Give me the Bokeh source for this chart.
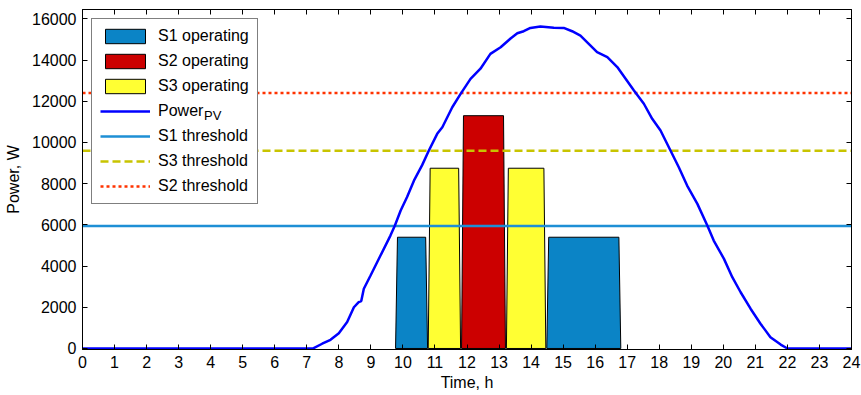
from bokeh.plotting import figure
from bokeh.models import Range1d, LinearAxis, FixedTicker, Legend, LegendItem
from bokeh.embed import file_html
from bokeh.resources import INLINE

# ---------------- data ----------------
hour_ticks = list(range(0, 25))
power_ticks = list(range(0, 16001, 2000))

pv_time = [0, 7.2, 7.48, 7.74, 8.0, 8.26, 8.47, 8.62, 8.70, 8.78, 8.99, 9.30, 9.61, 9.75,
           9.93, 10.13, 10.36, 10.6, 10.81, 11.07, 11.23, 11.54, 11.80, 12.11, 12.42, 12.73,
           13.05, 13.36, 13.57, 13.77, 13.98, 14.29, 14.71, 15.02, 15.28, 15.54, 15.80, 16.06,
           16.38, 16.69, 16.95, 17.21, 17.52, 17.78, 18.04, 18.35, 18.61, 18.87, 19.19, 19.50,
           19.70, 20.02, 20.28, 20.54, 20.85, 21.16, 21.47, 21.79, 22.0, 24]
pv_power = [0, 0, 230, 420, 740, 1280, 2000, 2250, 2300, 2900, 3540, 4510, 5480, 5970,
            6700, 7350, 8200, 8900, 9610, 10420, 10740, 11710, 12360, 13090, 13580, 14300,
            14620, 15050, 15300, 15400, 15560, 15630, 15570, 15560, 15400, 15190, 14790, 14380,
            14140, 13660, 13090, 12520, 11880, 11150, 10580, 9610, 8800, 7910, 7020, 5970,
            5240, 4350, 3460, 2730, 1930, 1200, 550, 190, 0, 0]

s1_start = [9.77, 14.49]
s1_end = [10.77, 16.80]
s1_level = 5400

s2_start = [11.83]
s2_end = [13.20]
s2_level = 11300

s3_start = [10.79, 13.23]
s3_end = [11.80, 14.46]
s3_level = 8750

s1_threshold = 5950
s3_threshold = 9600
s2_threshold = 12400

legend_labels = ["S1 operating", "S2 operating", "S3 operating", "Power",
                 "S1 threshold", "S3 threshold", "S2 threshold"]
pv_subscript = "PV"

# ---------------- styling ----------------
FONT = "Liberation Sans"
RAMP = 0.06  # width of the rising / falling edge of the operating blocks (h)

C_S1 = "#0b84c6"
C_S2 = "#cc0000"
C_S3 = "#ffff33"
C_PV = "#0000ff"
C_S1T = "#1e8fd5"
C_S3T = "#c8c400"
C_S2T = "#ff3300"

p = figure(width=861, height=395, output_backend="svg", toolbar_location=None,
           x_range=Range1d(0, 24), y_range=Range1d(-50, 16455),
           min_border_left=82, min_border_right=10, min_border_top=9, min_border_bottom=46)
p.xgrid.visible = False
p.ygrid.visible = False
p.outline_line_color = "black"
p.outline_line_width = 1
p.background_fill_color = "white"
p.border_fill_color = "white"


def blocks(starts, ends, level):
    xs, ys = [], []
    for s, e in zip(starts, ends):
        xs.append([s, s + RAMP, e - RAMP, e])
        ys.append([0, level, level, 0])
    return xs, ys


xs1, ys1 = blocks(s1_start, s1_end, s1_level)
xs2, ys2 = blocks(s2_start, s2_end, s2_level)
xs3, ys3 = blocks(s3_start, s3_end, s3_level)

r_s1 = p.patches(xs1, ys1, fill_color=C_S1, line_color="black", line_width=1)
r_s2 = p.patches(xs2, ys2, fill_color=C_S2, line_color="black", line_width=1)
r_s3 = p.patches(xs3, ys3, fill_color=C_S3, line_color="black", line_width=1)

x_full = [hour_ticks[0], hour_ticks[-1]]
r_s1t = p.line(x_full, [s1_threshold] * 2, line_color=C_S1T, line_width=2.5)
r_s3t = p.line(x_full, [s3_threshold] * 2, line_color=C_S3T, line_width=2.5, line_dash="8 4")
r_s2t = p.line(x_full, [s2_threshold] * 2, line_color=C_S2T, line_width=2.5, line_dash="3 3")
r_pv = p.line(pv_time, pv_power, line_color=C_PV, line_width=2.5)

# axes
for ax in (p.xaxis[0], p.yaxis[0]):
    ax.axis_line_color = "black"
    ax.major_tick_line_color = "black"
    ax.major_tick_in = 5
    ax.major_tick_out = 0
    ax.minor_tick_line_color = None
    ax.major_label_text_font = FONT
    ax.major_label_text_font_size = "16px"
    ax.major_label_text_color = "black"
    ax.axis_label_text_font = FONT
    ax.axis_label_text_font_size = "16px"
    ax.axis_label_text_font_style = "normal"
    ax.axis_label_text_color = "black"

p.xaxis[0].ticker = FixedTicker(ticks=hour_ticks)
p.yaxis[0].ticker = FixedTicker(ticks=power_ticks)
p.xaxis[0].axis_label = "Time, h"
p.yaxis[0].axis_label = "Power, W"
p.xaxis[0].major_label_standoff = 6
p.xaxis[0].axis_label_standoff = 3
p.yaxis[0].major_label_standoff = 6
p.yaxis[0].axis_label_standoff = 7

# tick marks only (no labels) on the top and right edges of the box
top_axis = LinearAxis(ticker=FixedTicker(ticks=hour_ticks))
right_axis = LinearAxis(ticker=FixedTicker(ticks=power_ticks))
for ax in (top_axis, right_axis):
    ax.axis_line_color = "black"
    ax.major_tick_in = 5
    ax.major_tick_out = 0
    ax.minor_tick_line_color = None
    ax.major_label_text_font_size = "1px"
    ax.major_label_text_color = None
    ax.major_label_standoff = 0
p.add_layout(top_axis, "above")
p.add_layout(right_axis, "right")

renderers = [r_s1, r_s2, r_s3, r_pv, r_s1t, r_s3t, r_s2t]
legend = Legend(items=[LegendItem(label=lab, renderers=[r]) for lab, r in zip(legend_labels, renderers)],
                location="top_left")
legend.margin = 9
legend.padding = 8
legend.spacing = 7
legend.glyph_width = 50
legend.glyph_height = 18
legend.label_height = 18
legend.label_standoff = 8
legend.label_text_font = FONT
legend.label_text_font_size = "16px"
legend.label_text_color = "black"
legend.border_line_color = "black"
legend.border_line_width = 1
legend.background_fill_color = "white"
legend.background_fill_alpha = 1
p.add_layout(legend)

# subscript "PV" of "Power_PV": a second, transparent legend drawn over the first
sub = Legend(items=[LegendItem(label=pv_subscript, renderers=[r_pv])], location=(122, 226))
sub.margin = 0
sub.padding = 0
sub.spacing = 0
sub.glyph_width = 0
sub.glyph_height = 15
sub.label_height = 15
sub.label_standoff = 0
sub.label_text_font = FONT
sub.label_text_font_size = "13px"
sub.label_text_color = "black"
sub.border_line_color = None
sub.background_fill_alpha = 0
p.add_layout(sub)

open("out.html", "w").write(file_html(p, INLINE))
